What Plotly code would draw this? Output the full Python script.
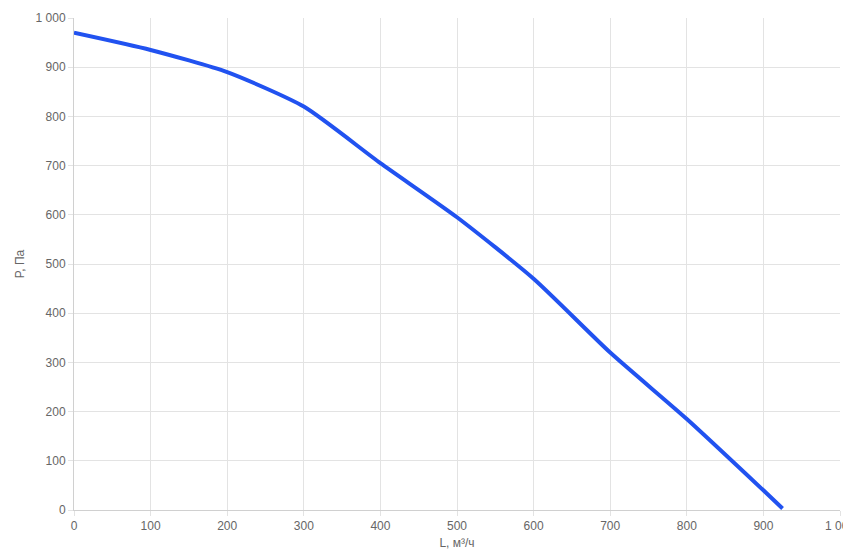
import plotly.graph_objects as go

flow = [0, 100, 200, 300, 400, 500, 600, 700, 800, 900, 925]
pressure = [970, 935, 890, 820, 705, 595, 470, 320, 185, 40, 3]
x_ticks = [0, 100, 200, 300, 400, 500, 600, 700, 800, 900, 1000]
x_labels = ["0", "100", "200", "300", "400", "500", "600", "700", "800", "900", "1 000"]
y_ticks = [0, 100, 200, 300, 400, 500, 600, 700, 800, 900, 1000]
y_labels = ["0", "100", "200", "300", "400", "500", "600", "700", "800", "900", "1 000"]

fig = go.Figure(go.Scatter(x=flow, y=pressure, mode="lines", cliponaxis=False,
                           line=dict(color="#2152f0", width=4, shape="spline", smoothing=0.6)))
ax = dict(showgrid=True, gridcolor="#e3e3e3", zeroline=False, showline=True,
          linecolor="#d0d0d0", ticks="outside", ticklen=5, tickcolor="#e3e3e3",
          tickfont=dict(size=12, color="#666"), automargin=False)
fig.update_layout(
    width=851, height=553, plot_bgcolor="white", paper_bgcolor="white",
    margin=dict(l=66, r=19, t=10, b=51, autoexpand=False), showlegend=False,
    font=dict(family="Arial, Liberation Sans", color="#666"),
    xaxis=dict(ax, range=[0, 1000], tickvals=x_ticks, ticktext=x_labels,
               title=dict(text="L, м³/ч", font=dict(size=12), standoff=6)),
    yaxis=dict(ax, range=[0, 1000], tickvals=y_ticks, ticktext=y_labels,
               title=dict(text="P, Па", font=dict(size=12), standoff=8)),
)
fig.write_html("out.html")
